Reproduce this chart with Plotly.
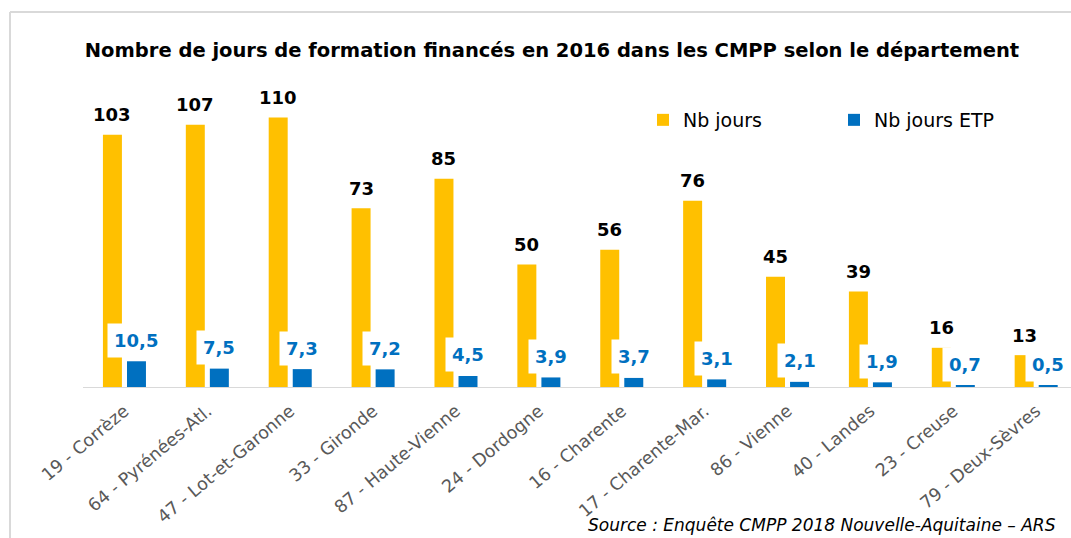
import plotly.graph_objects as go

# Départements (ordre d'affichage)
departements = [
    "19 - Corrèze", "64 - Pyrénées-Atl.", "47 - Lot-et-Garonne", "33 - Gironde",
    "87 - Haute-Vienne", "24 - Dordogne", "16 - Charente", "17 - Charente-Mar.",
    "86 - Vienne", "40 - Landes", "23 - Creuse", "79 - Deux-Sèvres",
]
# Nombre de jours de formation financés
nb_jours = [103, 107, 110, 73, 85, 50, 56, 76, 45, 39, 16, 13]
# Nombre de jours par ETP
nb_jours_etp = [10.5, 7.5, 7.3, 7.2, 4.5, 3.9, 3.7, 3.1, 2.1, 1.9, 0.7, 0.5]

JAUNE = "#FFC000"
BLEU = "#0070C0"
FONT = "DejaVu Sans"

W, H = 1071, 538
ML, MR, MT, MB = 83, 0, 60, 151
px_per_unit = 2.45
ymax = (H - MT - MB) / px_per_unit


def fr(v):
    return f"{v:.1f}".replace(".", ",")


fig = go.Figure()
fig.add_trace(go.Bar(x=departements, y=nb_jours, name="Nb jours",
                     marker=dict(color=JAUNE, line=dict(width=0))))
fig.add_trace(go.Bar(x=departements, y=nb_jours_etp, name="Nb jours ETP",
                     marker=dict(color=BLEU, line=dict(width=0))))

annotations = []
for d, v in zip(departements, nb_jours):
    annotations.append(dict(
        x=d, y=v, xref="x", yref="y", text=f"<b>{v}</b>", showarrow=False,
        xshift=-12, yshift=20, yanchor="middle",
        font=dict(family=FONT, size=18, color="#000000")))
for d, v in zip(departements, nb_jours_etp):
    annotations.append(dict(
        x=d, y=v, xref="x", yref="y", text=f"<b>{fr(v)}</b>", showarrow=False,
        xshift=12, yshift=21, yanchor="middle", bgcolor="#FFFFFF", borderpad=6,
        font=dict(family=FONT, size=18, color=BLEU)))

# Cadre du graphique (bords haut et gauche), positions en pixels
pw = W - ML - MR
ph = H - MT - MB
def px_x(x):
    return (x - ML) / pw
def px_y(y):
    return (H - MB - y) / ph

annotations.append(dict(
    x=px_x(1058), y=px_y(525), xref="paper", yref="paper",
    text="<i>Source : Enquête CMPP 2018 Nouvelle-Aquitaine – ARS</i>",
    showarrow=False, xanchor="right", yanchor="middle",
    font=dict(family=FONT, size=17, color="#000000")))

shapes = [
    dict(type="line", xref="paper", yref="paper", x0=px_x(10), x1=px_x(1075),
         y0=px_y(12), y1=px_y(12), line=dict(color="#D9D9D9", width=2)),
    dict(type="line", xref="paper", yref="paper", x0=px_x(10), x1=px_x(10),
         y0=px_y(12), y1=px_y(540), line=dict(color="#D9D9D9", width=2)),
]

fig.update_layout(
    width=W, height=H,
    margin=dict(l=ML, r=MR, t=MT, b=MB, autoexpand=False),
    paper_bgcolor="#FFFFFF", plot_bgcolor="#FFFFFF",
    barmode="group", bargap=0.42, bargroupgap=0.21,
    title=dict(text="<b>Nombre de jours de formation financés en 2016 dans les CMPP selon le département</b>",
               x=552 / W, xref="container", xanchor="center",
               y=1 - 50 / H, yref="container", yanchor="middle",
               font=dict(family=FONT, size=19.5, color="#000000")),
    legend=dict(orientation="h", xref="container", yref="container",
                x=643 / W, y=1 - 120 / H, xanchor="left", yanchor="middle",
                entrywidth=146, entrywidthmode="pixels",
                font=dict(family=FONT, size=19, color="#000000"),
                bgcolor="rgba(0,0,0,0)"),
    xaxis=dict(range=[-0.5, 11.42], tickangle=-40, showline=True,
               linecolor="#D9D9D9", linewidth=1, ticks="", showgrid=False,
               automargin=False, ticklabelstandoff=6,
               tickfont=dict(family=FONT, size=17.5, color="#595959")),
    yaxis=dict(range=[0, ymax], visible=False, showgrid=False),
    annotations=annotations,
    shapes=shapes,
    showlegend=True,
)

fig.write_html("out.html")
